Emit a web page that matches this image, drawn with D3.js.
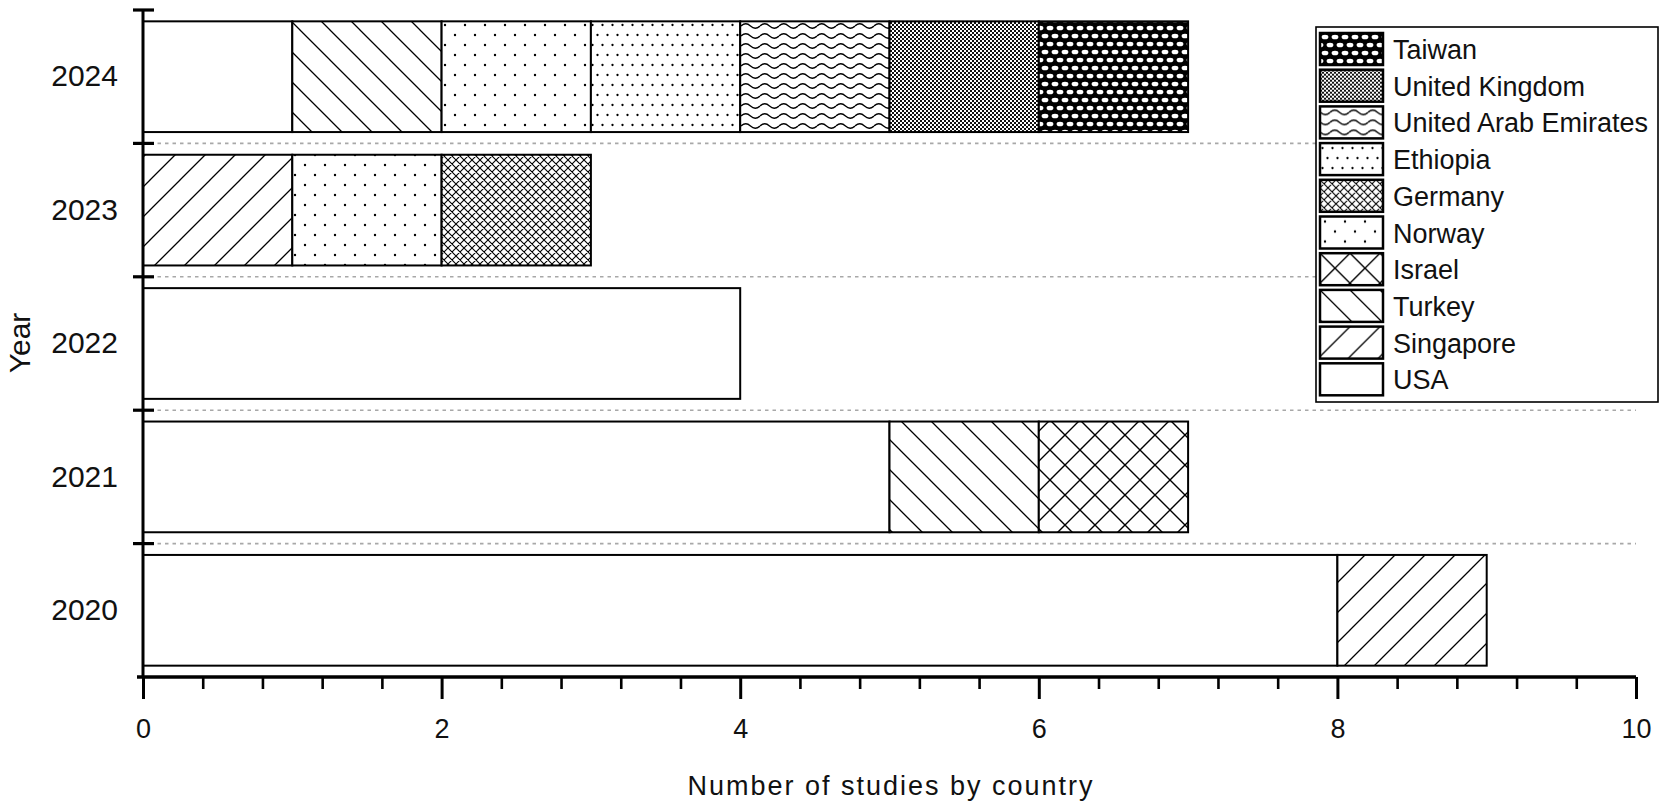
<!DOCTYPE html>
<html>
<head>
<meta charset="utf-8">
<script src="https://cdn.jsdelivr.net/npm/d3@7"></script>
<style>
  html, body { margin: 0; padding: 0; background: #fff; }
  svg { display: block; font-family: "Liberation Sans", Arial, sans-serif; }
</style>
</head>
<body>
<svg id="chart" width="1665" height="804"></svg>
<script>
// ============ data ============
const years = [2024, 2023, 2022, 2021, 2020];
// stacking order, left to right inside a bar
const countries = ['USA', 'Singapore', 'Turkey', 'Israel', 'Norway', 'Germany',
  'Ethiopia', 'United Arab Emirates', 'United Kingdom', 'Taiwan'];
const usa       = [1, 0, 4, 5, 8];
const singapore = [0, 1, 0, 0, 1];
const turkey    = [1, 0, 0, 1, 0];
const israel    = [0, 0, 0, 1, 0];
const norway    = [1, 1, 0, 0, 0];
const germany   = [0, 1, 0, 0, 0];
const ethiopia  = [1, 0, 0, 0, 0];
const uae       = [1, 0, 0, 0, 0];
const uk        = [1, 0, 0, 0, 0];
const taiwan    = [1, 0, 0, 0, 0];
const xMajorTicks = [0, 2, 4, 6, 8, 10];
const xTitle = 'Number of studies by country';
const yTitle = 'Year';

(function() {
  'use strict';

  const series = [usa, singapore, turkey, israel, norway, germany, ethiopia, uae, uk, taiwan];
  const patternIds = ['p-usa', 'p-sgp', 'p-tur', 'p-isr', 'p-nor', 'p-ger', 'p-eth', 'p-uae', 'p-uk', 'p-twn'];

  // rows for d3.stack
  const table = years.map((year, i) => {
    const row = { year: year };
    countries.forEach((c, k) => { row[c] = series[k][i]; });
    return row;
  });

  const svg = d3.select('#chart');
  const defs = svg.append('defs');

  // ============ fill patterns ============
  function addPattern(id, w, h, bg) {
    const p = defs.append('pattern')
      .attr('id', id)
      .attr('patternUnits', 'userSpaceOnUse')
      .attr('width', w)
      .attr('height', h);
    p.append('rect').attr('width', w).attr('height', h).attr('fill', bg || '#fff');
    return p;
  }
  function hatch(p, d, sw) {
    p.append('path').attr('d', d).attr('stroke', '#000').attr('stroke-width', sw).attr('fill', 'none');
  }

  addPattern('p-usa', 10, 10);
  hatch(addPattern('p-sgp', 30, 30), 'M-3,33 L33,-3 M-3,3 L3,-3 M27,33 L33,27', 1.3);
  hatch(addPattern('p-tur', 30, 30), 'M-3,-3 L33,33 M27,-3 L33,3 M-3,27 L3,33', 1.3);
  hatch(addPattern('p-isr', 30, 30),
    'M-3,33 L33,-3 M-3,3 L3,-3 M27,33 L33,27 M-3,-3 L33,33 M27,-3 L33,3 M-3,27 L3,33', 1.4);
  hatch(addPattern('p-ger', 8, 8), 'M-1,9 L9,-1 M-1,1 L1,-1 M7,9 L9,7 M-1,-1 L9,9 M7,-1 L9,1 M-1,7 L1,9', 1.1);

  const nor = addPattern('p-nor', 20, 20);
  [[5, 5], [15, 15]].forEach(d => nor.append('circle').attr('cx', d[0]).attr('cy', d[1]).attr('r', 1.2).attr('fill', '#000'));

  const eth = addPattern('p-eth', 10, 20);
  [[2.5, 5], [7.5, 15]].forEach(d => eth.append('circle').attr('cx', d[0]).attr('cy', d[1]).attr('r', 1.15).attr('fill', '#000'));

  hatch(addPattern('p-uae', 19, 10), 'M0,6 Q4.75,1.5 9.5,6 T19,6', 1.3);

  const ukp = addPattern('p-uk', 4, 4);
  ukp.append('rect').attr('width', 2).attr('height', 2).attr('fill', '#111');
  ukp.append('rect').attr('x', 2).attr('y', 2).attr('width', 2).attr('height', 2).attr('fill', '#111');

  const twn = addPattern('p-twn', 10, 16, '#000');
  [[5, 4], [0, 12], [10, 12]].forEach(d => twn.append('ellipse')
    .attr('cx', d[0]).attr('cy', d[1]).attr('rx', 3.4).attr('ry', 2.3).attr('fill', '#fff'));

  // ============ scales ============
  const x = d3.scaleLinear().domain([0, 10]).range([143, 1636]);
  const y = d3.scaleBand().domain(years).range([10, 677]).paddingInner(0.17).paddingOuter(0.085);
  const step = y.step();
  // band boundaries between years
  const boundaries = years.slice(0, -1).map(yr => y(yr) + y.bandwidth() + step * y.paddingInner() / 2);

  // dashed separators
  svg.append('g').selectAll('line').data(boundaries).join('line')
    .attr('x1', 150).attr('x2', x(10))
    .attr('y1', d => d).attr('y2', d => d)
    .attr('stroke', '#a8a8a8').attr('stroke-width', 1.6).attr('stroke-dasharray', '3.5,4');

  // ============ bars ============
  const stacked = d3.stack().keys(countries)(table);
  const barLayer = svg.append('g');
  stacked.forEach((layer, k) => {
    barLayer.append('g')
      .selectAll('rect')
      .data(layer.filter(d => d[1] - d[0] > 0))
      .join('rect')
      .attr('x', d => x(d[0]))
      .attr('y', d => y(d.data.year))
      .attr('width', d => x(d[1]) - x(d[0]))
      .attr('height', y.bandwidth())
      .attr('fill', `url(#${patternIds[k]})`)
      .attr('stroke', '#000')
      .attr('stroke-width', 2);
  });

  // ============ x axis ============
  const minorTicks = d3.range(0, 10.01, 0.4).filter(v => Math.abs(v / 2 - Math.round(v / 2)) > 1e-6);
  const xMinor = svg.append('g').attr('transform', 'translate(0,677)')
    .call(d3.axisBottom(x).tickValues(minorTicks).tickSize(12).tickFormat(''));
  xMinor.select('.domain').remove();
  xMinor.selectAll('line').attr('stroke', '#000').attr('stroke-width', 2.6);

  const xMajor = svg.append('g').attr('transform', 'translate(0,677)')
    .call(d3.axisBottom(x).tickValues(xMajorTicks).tickSize(22).tickSizeOuter(0).tickPadding(20).tickFormat(d3.format('d')));
  xMajor.select('.domain').attr('d', 'M137,0H' + x(10)).attr('stroke', '#000').attr('stroke-width', 3.5);
  xMajor.selectAll('.tick line').attr('stroke', '#000').attr('stroke-width', 3);
  xMajor.selectAll('.tick text').attr('fill', '#111').style('font-size', '27px')
    .style('font-family', '"Liberation Sans", Arial, sans-serif');

  svg.append('text')
    .attr('x', 891).attr('y', 795)
    .attr('text-anchor', 'middle')
    .style('font-size', '27px')
    .style('letter-spacing', '2px')
    .attr('fill', '#111')
    .text(xTitle);

  // ============ y axis ============
  const yAxis = svg.append('g').attr('transform', 'translate(143,0)')
    .call(d3.axisLeft(y).tickSize(0).tickPadding(25));
  yAxis.select('.domain').attr('d', 'M0,10V677').attr('stroke', '#000').attr('stroke-width', 3);
  yAxis.selectAll('.tick text').attr('fill', '#111').style('font-size', '30px')
    .style('font-family', '"Liberation Sans", Arial, sans-serif');

  // cross ticks at top and between years
  svg.append('g').selectAll('line').data([10].concat(boundaries)).join('line')
    .attr('x1', 133).attr('x2', 154)
    .attr('y1', d => d).attr('y2', d => d)
    .attr('stroke', '#000').attr('stroke-width', 3.2);

  svg.append('text')
    .attr('transform', 'translate(30,343) rotate(-90)')
    .attr('text-anchor', 'middle')
    .style('font-size', '30px')
    .attr('fill', '#111')
    .text(yTitle);

  // ============ legend ============
  const legend = svg.append('g');
  legend.append('rect')
    .attr('x', 1316).attr('y', 27).attr('width', 342).attr('height', 375)
    .attr('fill', '#fff').attr('stroke', '#000').attr('stroke-width', 1.6);

  const legendOrder = countries.map((c, k) => k).reverse();
  const rowY = d3.scaleLinear().domain([0, 1]).range([33, 69.7]);
  const rows = legend.selectAll('g.row').data(legendOrder).join('g')
    .attr('class', 'row')
    .attr('transform', (k, i) => `translate(0,${rowY(i)})`);
  rows.append('rect')
    .attr('x', 1320).attr('y', 0).attr('width', 63).attr('height', 32)
    .attr('fill', k => `url(#${patternIds[k]})`)
    .attr('stroke', '#000').attr('stroke-width', 2.5);
  rows.append('text')
    .attr('x', 1393).attr('y', 26)
    .style('font-size', '27px')
    .attr('fill', '#111')
    .text(k => countries[k]);
})();
</script>
</body>
</html>
